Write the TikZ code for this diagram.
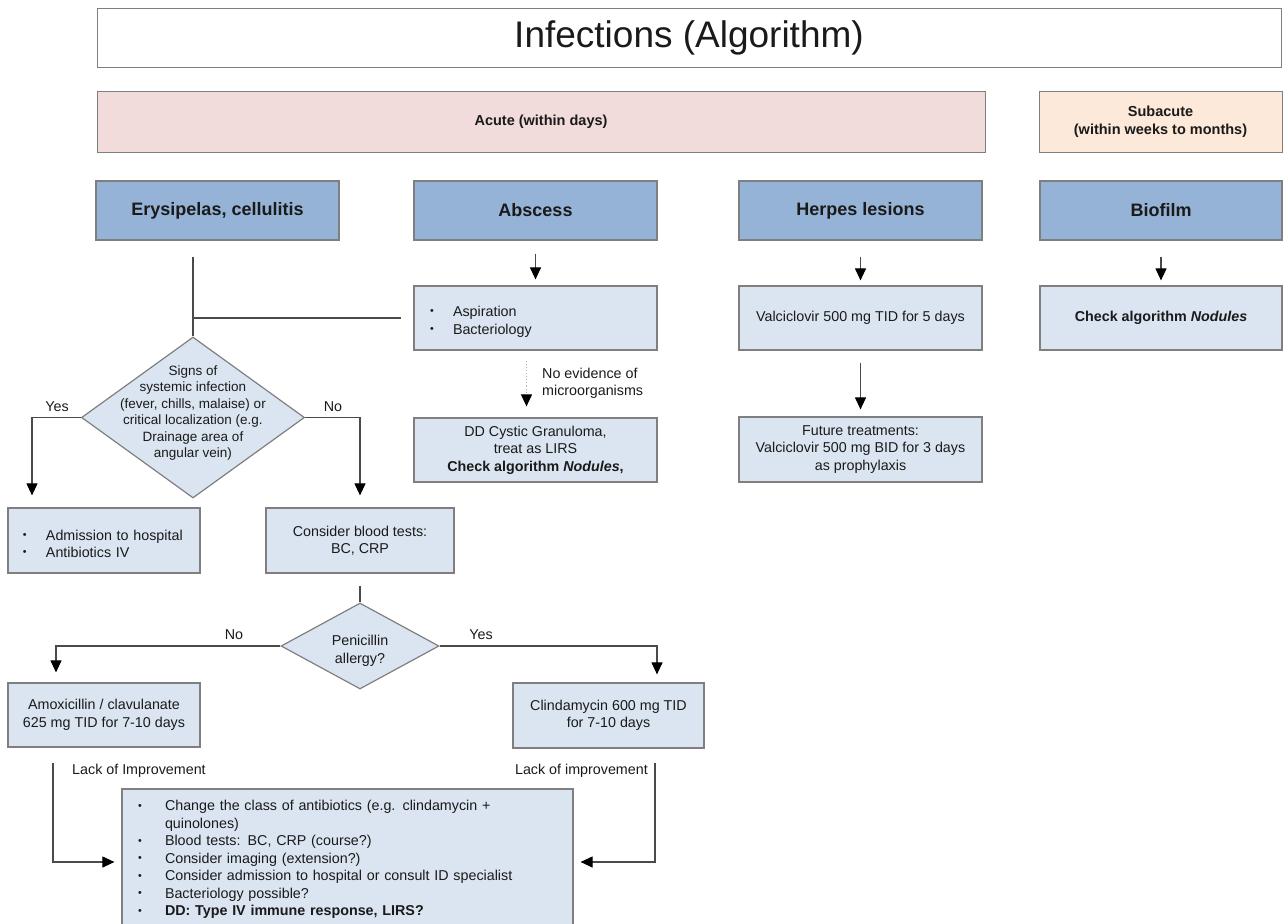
\documentclass[tikz,border=0pt]{standalone}
\usepackage{fontspec}
\usepackage{graphicx}
\setmainfont{Liberation Sans}
\usetikzlibrary{arrows.meta,shapes.geometric}

\definecolor{hdrblue}{HTML}{95B3D7}
\definecolor{pale}{HTML}{DBE5F1}
\definecolor{acutepink}{HTML}{F2DCDB}
\definecolor{subpeach}{HTML}{FDE9D9}
\definecolor{edge}{HTML}{7F7F7F}
\definecolor{wire}{HTML}{4A4A4A}
\definecolor{ink}{HTML}{1A1A1A}

\newcommand\fsz[2]{\fontsize{#1}{#2}\selectfont}
\newcommand\dotb{\raisebox{0.12em}{\scalebox{0.75}{\textbullet}}}
% bullet line with hanging indent #1, text #2
\newcommand\bitem[2]{\par\hangindent=#1\hangafter=1\noindent\makebox[#1][l]{\dotb}#2}

\begin{document}
\begin{tikzpicture}[x=1pt,y=-1pt,
  box/.style={draw=edge, line width=1.2pt, fill=pale, inner sep=0pt, align=center,
    text=ink, font=\fsz{14.3}{17.5}},
  hdr/.style={box, fill=hdrblue, minimum width=243pt, minimum height=59pt,
    font=\fsz{18}{21}\bfseries},
  midbox/.style={box, minimum width=243pt, minimum height=64pt},
  decision/.style={diamond, draw=edge, line width=1.2pt, fill=pale, inner sep=0pt},
  lbl/.style={inner sep=0pt, text=ink, font=\fsz{14.3}{17}},
  conn/.style={draw=wire, line width=1.1pt},
  arr/.style={conn, -{Triangle[width=11pt,length=12pt,color=black]}},
  dotarr/.style={draw=gray!60, line width=1.1pt, dotted,
    -{Triangle[width=11pt,length=12pt,color=black]}}
]
\useasboundingbox (0,0) rectangle (1283,924);

% title and time bands
\node[box, fill=white, line width=1pt, minimum width=1184pt, minimum height=59pt,
  font=\fsz{37}{44}] (title) at (689,37.5) {Infections (Algorithm)};
\node[box, fill=acutepink, line width=1pt, minimum width=888pt, minimum height=61pt,
  font=\fsz{14.5}{18}\bfseries] (acute) at (541,122) {Acute (within days)};
\node[box, fill=subpeach, line width=1pt, minimum width=243pt, minimum height=61pt,
  font=\fsz{14.5}{18}\bfseries] (sub) at (1160.5,122) {Subacute\\(within weeks to months)};

% column headers
\node[hdr] (ery)  at (217.5,210.5) {Erysipelas, cellulitis};
\node[hdr] (absc) at (535.5,210.5) {Abscess};
\node[hdr] (herp) at (860.5,210.5) {Herpes lesions};
\node[hdr, minimum width=242pt] (bio) at (1161,210.5) {Biofilm};

% abscess column
\node[midbox, align=left, text width=211pt] (asp) at (535.5,318)
  {\bitem{23pt}{Aspiration}\bitem{23pt}{Bacteriology}};
\node[midbox] (dd) at (535.5,450)
  {DD Cystic Granuloma,\\treat as LIRS\\\textbf{Check algorithm \textit{Nodules},}};

% herpes column
\node[midbox] (valc) at (860.5,318) {Valciclovir 500 mg TID for 5 days};
\node[midbox, minimum height=65pt] (fut) at (860.5,449.5)
  {Future treatments:\\Valciclovir 500 mg BID for 3 days\\as prophylaxis};

% biofilm column
\node[midbox, minimum width=242pt, font=\fsz{14.3}{17.5}\bfseries] (chk) at (1161,318)
  {Check algorithm \textit{Nodules}};

% erysipelas branch
\node[decision, minimum width=223pt, minimum height=161pt] (d1) at (193,417.5) {};
\node[lbl, align=center, font=\fsz{13.5}{16.5}] (d1t) at (193,413)
  {Signs of\\systemic infection\\(fever, chills, malaise) or\\critical localization (e.g.\\Drainage area of\\angular vein)};
\node[box, minimum width=192pt, minimum height=65pt, align=left, text width=162pt,
  font=\fsz{14.3}{17}] (adm) at (104,540.5)
  {\bitem{23pt}{Admission to hospital}\bitem{23pt}{Antibiotics IV}};
\node[box, minimum width=188pt, minimum height=65pt] (blood) at (360,540.5)
  {Consider blood tests:\\BC, CRP};
\node[decision, minimum width=158pt, minimum height=86pt] (d2) at (360,646) {};
\node[lbl, align=center, font=\fsz{14.3}{17.5}] (d2t) at (360,651) {Penicillin\\allergy?};
\node[box, minimum width=192pt, minimum height=64pt] (amox) at (104,715)
  {Amoxicillin / clavulanate\\625 mg TID for 7-10 days};
\node[box, minimum width=191pt, minimum height=65pt] (clin) at (608.5,715.5)
  {Clindamycin 600 mg TID\\for 7-10 days};
\node[box, minimum width=451pt, minimum height=146pt, align=left, text width=419pt]
  (bot) at (347.5,862)
  {\bitem{27pt}{Change the class of antibiotics (e.g. clindamycin +\newline quinolones)}%
   \bitem{27pt}{Blood tests: BC, CRP (course?)}%
   \bitem{27pt}{Consider imaging (extension?)}%
   \bitem{27pt}{Consider admission to hospital or consult ID specialist}%
   \bitem{27pt}{Bacteriology possible?}%
   \bitem{27pt}{\textbf{DD: Type IV immune response, LIRS?}}\vspace*{12pt}};

% labels
\node[lbl] (yes1) at (57,407) {Yes};
\node[lbl] (no1) at (333,407) {No};
\node[lbl] (no2) at (234,635) {No};
\node[lbl] (yes2) at (481,635) {Yes};
\node[lbl, anchor=west, align=left] (noev) at (542,383.5) {No evidence of\\microorganisms};
\node[lbl, anchor=west] (lackl) at (72,771) {Lack of Improvement};
\node[lbl, anchor=east] (lackr) at (648,771) {Lack of improvement};

% connectors: top columns
\draw[arr, shorten <=13pt, shorten >=6pt] (absc.south) -- (asp.north);
\draw[arr, shorten <=16pt, shorten >=5pt] (herp.south) -- (valc.north);
\draw[arr, shorten <=16pt, shorten >=5pt] (bio.south) -- (chk.north);
\draw[arr, shorten <=12pt, shorten >=7pt] (valc.south) -- (fut.north);
\draw[dotarr, shorten <=10pt, shorten >=11pt] ([xshift=-9pt]asp.south) -- ([xshift=-9pt]dd.north);

% connectors: erysipelas branch
\draw[conn, shorten <=16pt] (d1.north |- ery.south) -- (d1.north);
\draw[conn, shorten >=12pt] (d1.north |- asp.west) -- (asp.west);
\draw[arr, shorten >=12pt] (d1.west) -| ([xshift=-72pt]adm.north);
\draw[arr, shorten >=12pt] (d1.east) -| (blood.north);
\draw[conn, shorten <=12pt] (blood.south) -- (d2.north);
\draw[arr, shorten >=10pt] (d2.west) -| ([xshift=-48pt]amox.north);
\draw[arr, shorten >=8pt] (d2.east) -| ([xshift=48.5pt]clin.north);
\draw[arr, shorten >=7pt] ([xshift=-51pt,yshift=-15pt]amox.south) |- (bot.west);
\draw[arr, shorten >=7pt] ([xshift=46.5pt,yshift=-14pt]clin.south) |- (bot.east);
\end{tikzpicture}
\end{document}
